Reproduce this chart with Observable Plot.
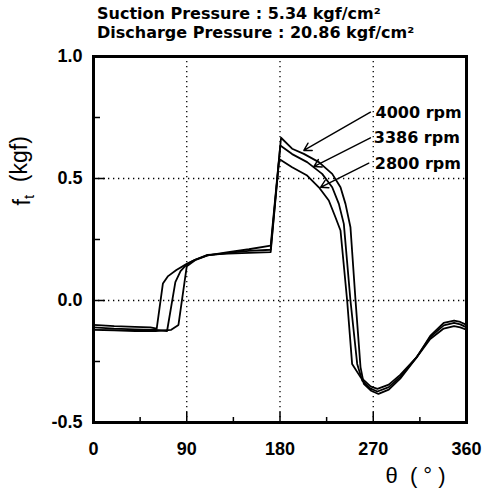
<!DOCTYPE html>
<html><head><meta charset="utf-8">
<script src="https://cdn.jsdelivr.net/npm/d3@7"></script>
<script src="https://cdn.jsdelivr.net/npm/@observablehq/plot@0.6"></script>
<style>
body{margin:0;background:#fff;}
#title{height:42px;box-sizing:border-box;padding:4px 0 0 97px;font-family:"DejaVu Sans";font-weight:bold;font-size:16px;line-height:19px;color:#000;}
</style></head><body>
<div id="title"><div>Suction Pressure : 5.34 kgf/cm²</div><div>Discharge Pressure : 20.86 kgf/cm²</div></div>
<div id="chart"></div>
<script>
// Series
const theta2800 = [0, 20, 40, 55, 61, 67, 72, 80, 90, 98, 110, 130, 150, 171, 179.2, 191.7, 206.2, 217.5, 227.1, 233.6, 238.4, 244.8, 249.6, 257.7, 267.4, 274, 285, 296, 312, 325, 338, 348, 354, 360];
const ft2800    = [-0.10, -0.105, -0.108, -0.11, -0.115, 0.07, 0.10, 0.125, 0.15, 0.167, 0.187, 0.192, 0.195, 0.198, 0.58, 0.546, 0.512, 0.464, 0.41, 0.34, 0.287, 0, -0.26, -0.314, -0.352, -0.362, -0.345, -0.305, -0.232, -0.158, -0.115, -0.105, -0.11, -0.12];
const theta3386 = [0, 20, 40, 60, 71, 79, 84, 90, 98, 110, 130, 150, 171, 180.3, 191.7, 206.2, 220.7, 230.4, 236.8, 241.6, 248, 254.5, 259.3, 267, 274, 285, 296, 312, 325, 338, 348, 354, 360];
const ft3386    = [-0.11, -0.115, -0.118, -0.12, -0.125, 0.075, 0.12, 0.148, 0.167, 0.185, 0.195, 0.203, 0.208, 0.635, 0.60, 0.567, 0.519, 0.464, 0.396, 0.314, 0, -0.26, -0.328, -0.36, -0.373, -0.355, -0.313, -0.232, -0.15, -0.102, -0.092, -0.098, -0.11];
const theta4000 = [0, 20, 40, 60, 75, 82, 90, 98, 110, 130, 150, 171, 181, 191.7, 203, 217.5, 230.4, 238.4, 243.2, 248, 252.9, 257.7, 260.9, 268, 275, 285, 296, 312, 325, 338, 348, 354, 360];
const ft4000    = [-0.12, -0.122, -0.125, -0.125, -0.12, -0.10, 0.14, 0.165, 0.185, 0.198, 0.21, 0.225, 0.667, 0.622, 0.601, 0.567, 0.519, 0.464, 0.396, 0.30, 0, -0.273, -0.342, -0.37, -0.383, -0.365, -0.32, -0.232, -0.145, -0.092, -0.082, -0.088, -0.10];

// Axis ticks
const majorTheta = [0, 90, 180, 270, 360];
const minorTheta = [45, 135, 225, 315];
const gridTheta = [90, 180, 270];
const majorFt = [-0.5, 0.0, 0.5, 1.0];
const minorFt = [-0.25, 0.25, 0.75];
const gridFt = [0.0, 0.5];

// Annotations
const labelText = ["4000 rpm", "3386 rpm", "2800 rpm"];
const labelTheta = [272.2, 270.5, 271.5];
const labelFt = [0.771, 0.668, 0.561];
const arrowFromTheta = [267.3, 267.3, 265.7];
const arrowFromFt = [0.772, 0.667, 0.563];
const arrowToTheta = [203, 212.6, 219.1];
const arrowToFt = [0.615, 0.549, 0.464];

const series = [
  {name: "2800 rpm", theta: theta2800, ft: ft2800},
  {name: "3386 rpm", theta: theta3386, ft: ft3386},
  {name: "4000 rpm", theta: theta4000, ft: ft4000}
];
const rows = [];
series.forEach(s => s.theta.forEach((t, i) => rows.push({rpm: s.name, theta: t, ft: s.ft[i]})));
const labels = labelText.map((t, i) => ({t, x: labelTheta[i], y: labelFt[i]}));
const arrows = labelText.map((t, i) => ({x1: arrowFromTheta[i], y1: arrowFromFt[i], x2: arrowToTheta[i], y2: arrowToFt[i]}));

const W = 486, H = 448, mt = 14, mb = 68, ml = 93, mr = 20;
const ph = H - mt - mb, pw = W - ml - mr;

const plot = Plot.plot({
  width: W, height: H, marginTop: mt, marginBottom: mb, marginLeft: ml, marginRight: mr,
  x: {domain: [0, 360]},
  y: {domain: [-0.5, 1.0]},
  style: {fontFamily: "'Liberation Sans', Arial, sans-serif", fontSize: "18px", color: "#000", background: "#fff", overflow: "visible"},
  marks: [
    Plot.gridX(gridTheta, {stroke: "#000", strokeOpacity: 1, strokeWidth: 1.3, strokeDasharray: "1.3,3.7"}),
    Plot.gridY(gridFt, {stroke: "#000", strokeOpacity: 1, strokeWidth: 1.3, strokeDasharray: "1.3,3.7"}),
    Plot.axisX(majorTheta, {tickSize: 0, tickPadding: 20, label: null, tickFormat: d => String(d), fontSize: 18, fontWeight: "bold"}),
    Plot.axisY(majorFt, {tickSize: 0, tickPadding: 11, label: null, tickFormat: d => d.toFixed(1), fontSize: 18, fontWeight: "bold"}),
    Plot.tickX(majorTheta, {x: d => d, insetTop: ph - 10, stroke: "#000", strokeWidth: 1.5}),
    Plot.tickX(minorTheta, {x: d => d, insetTop: ph - 5, stroke: "#000", strokeWidth: 1.5}),
    Plot.tickY(majorFt, {y: d => d, insetRight: pw - 12, stroke: "#000", strokeWidth: 1.5}),
    Plot.tickY(minorFt, {y: d => d, insetRight: pw - 7, stroke: "#000", strokeWidth: 1.5}),
    Plot.line(rows, {x: "theta", y: "ft", z: "rpm", stroke: "#000", strokeWidth: 1.8}),
    Plot.arrow(arrows, {x1: "x1", y1: "y1", x2: "x2", y2: "y2", stroke: "#000", strokeWidth: 1.4, headLength: 9}),
    Plot.text(labels, {x: "x", y: "y", text: "t", textAnchor: "start", fontFamily: "DejaVu Sans", fontWeight: "bold", fontSize: 16, fill: "#000"}),
    Plot.text(["θ  ( ° )"], {frameAnchor: "bottom-right", textAnchor: "middle", dx: -51, dy: 60, fontSize: 22, fill: "#000"}),
    Plot.text(["YLABEL"], {frameAnchor: "left", textAnchor: "start", dx: -71, dy: -34, rotate: -90, fontSize: 23, fill: "#000"}),
    Plot.frame({stroke: "#000", strokeWidth: 3})
  ]
});

d3.select(plot).selectAll("text").filter(function() { return this.textContent === "YLABEL"; }).each(function() {
  const t = d3.select(this);
  t.text("");
  t.append("tspan").text("f");
  t.append("tspan").attr("dy", "0.3em").attr("font-size", "15px").text("t");
  t.append("tspan").attr("dy", "-0.3em").text("  (kgf)");
});
document.getElementById("chart").appendChild(plot);
</script>
</body></html>
